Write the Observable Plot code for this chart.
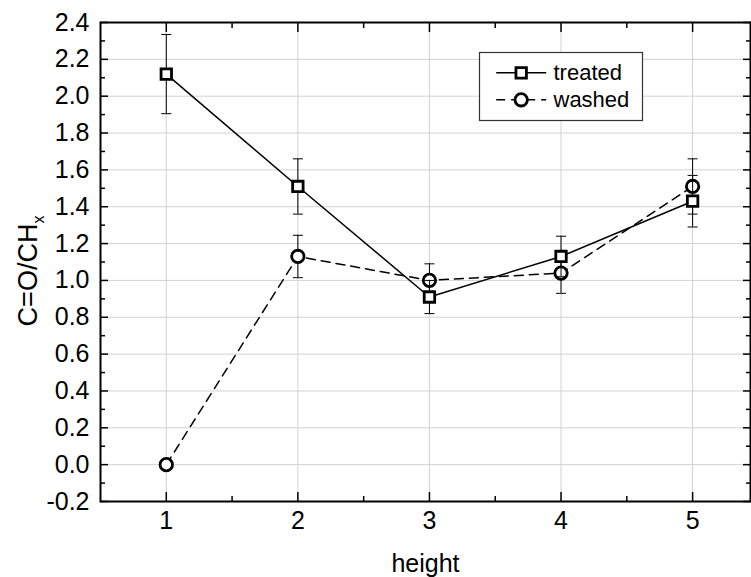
<!DOCTYPE html>
<html>
<head>
<meta charset="utf-8">
<script src="https://cdn.jsdelivr.net/npm/d3@7"></script>
<script src="https://cdn.jsdelivr.net/npm/@observablehq/plot@0.6"></script>
<style>
  html, body { margin: 0; padding: 0; background: #fff; }
  #chart svg { display: block; }
</style>
</head>
<body>
<div id="chart"></div>
<script>
// Measurements per sample height
const heights = [1, 2, 3, 4, 5];
const treated = [2.12, 1.51, 0.91, 1.13, 1.43];
const treatedErr = [0.215, 0.15, 0.09, 0.11, 0.14];
const washed = [0.00, 1.13, 1.00, 1.04, 1.51];
const washedErr = [0, 0.115, 0.09, 0.11, 0.15];
const seriesNames = ["treated", "washed"];

// Axis ticks and labels
const xTicks = [1, 2, 3, 4, 5];
const xMinor = [1.5, 2.5, 3.5, 4.5];
const yTicks = [-0.2, 0.0, 0.2, 0.4, 0.6, 0.8, 1.0, 1.2, 1.4, 1.6, 1.8, 2.0, 2.2, 2.4];
const yMinor = [-0.1, 0.1, 0.3, 0.5, 0.7, 0.9, 1.1, 1.3, 1.5, 1.7, 1.9, 2.1, 2.3];
const xLabel = "height";
const yLabel = "C=O/CH";
const yLabelSub = "x";

const rows = heights.flatMap((h, i) => [
  {series: seriesNames[0], x: h, y: treated[i], err: treatedErr[i]},
  {series: seriesNames[1], x: h, y: washed[i], err: washedErr[i]}
]);

// Horizontal-bar symbol, used for error-bar caps and legend line samples
const hbar = {
  draw(context, size) {
    const r = Math.sqrt(size / Math.PI);
    context.moveTo(-r, 0);
    context.lineTo(r, 0);
  }
};

const style = {
  treated: {symbol: "square", r: 5.9, dash: null},
  washed: {symbol: "circle", r: 6.2, dash: "9,6"}
};

function seriesMarks(name) {
  const data = rows.filter(d => d.series === name);
  const errs = data.filter(d => d.err > 0);
  const s = style[name];
  return [
    Plot.line(data, {x: "x", y: "y", stroke: "black", strokeWidth: 1.5, strokeDasharray: s.dash}),
    Plot.ruleX(errs, {x: "x", y1: d => d.y - d.err, y2: d => d.y + d.err, stroke: "black", strokeWidth: 1}),
    Plot.dot(errs, {x: "x", y: d => d.y + d.err, symbol: hbar, r: 5, stroke: "black", strokeWidth: 1}),
    Plot.dot(errs, {x: "x", y: d => d.y - d.err, symbol: hbar, r: 5, stroke: "black", strokeWidth: 1}),
    Plot.dot(data, {x: "x", y: "y", symbol: s.symbol, r: s.r, fill: "white", stroke: "black", strokeWidth: 2.8})
  ];
}

// Inward-pointing tick marks on every side of the frame
function inward(anchor, ticks, size) {
  const o = {ticks, tickSize: size, fill: "none", label: null, stroke: "black", strokeWidth: 1.5};
  if (anchor === "left") return Plot.axisY({...o, anchor, dx: size});
  if (anchor === "right") return Plot.axisY({...o, anchor, dx: -size});
  if (anchor === "bottom") return Plot.axisX({...o, anchor, dy: -size});
  return Plot.axisX({...o, anchor, dy: size});
}

const legendMarks = seriesNames.flatMap((name, i) => {
  const s = style[name];
  const dy = 50.3 + i * 27;
  return [
    Plot.dot([name], {frameAnchor: "top-left", dx: 420.7, dy, symbol: hbar, r: 25, stroke: "black", strokeWidth: 1.5, strokeDasharray: s.dash}),
    Plot.dot([name], {frameAnchor: "top-left", dx: 420.7, dy, symbol: s.symbol, r: s.r, fill: "white", stroke: "black", strokeWidth: 2.8}),
    Plot.text([name], {frameAnchor: "top-left", dx: 453, dy, text: d => d, textAnchor: "start", lineAnchor: "middle", fontSize: 22, fill: "black"})
  ];
});

const chart = Plot.plot({
  width: 751,
  height: 577,
  marginLeft: 100,
  marginRight: 1,
  marginTop: 22,
  marginBottom: 76,
  style: {fontFamily: "'Liberation Sans', Arial, sans-serif", fontSize: "22px", color: "black", background: "white"},
  x: {domain: [0.5, 5.44]},
  y: {domain: [-0.2, 2.4]},
  marks: [
    Plot.gridX(xTicks, {stroke: "#d2d2d2", strokeOpacity: 1, strokeWidth: 1}),
    Plot.gridY(yTicks, {stroke: "#d2d2d2", strokeOpacity: 1, strokeWidth: 1}),
    ...seriesMarks("washed"),
    ...seriesMarks("treated"),
    Plot.frame({stroke: "black", strokeWidth: 2}),
    inward("left", yTicks, 8), inward("left", yMinor, 5),
    inward("right", yTicks, 8), inward("right", yMinor, 5),
    inward("bottom", xTicks, 9), inward("bottom", xMinor, 5),
    inward("top", xTicks, 9), inward("top", xMinor, 5),
    Plot.axisY(yTicks, {anchor: "left", tickSize: 0, tickPadding: 11, tickFormat: d => d.toFixed(1), label: null, fontSize: 25}),
    Plot.axisX(xTicks, {anchor: "bottom", tickSize: 0, tickPadding: 10, tickFormat: d => String(d), label: null, fontSize: 25}),
    Plot.text([xLabel], {frameAnchor: "bottom", dy: 62, textAnchor: "middle", lineAnchor: "middle", text: d => d, fontSize: 25, fill: "black"}),
    Plot.text([yLabel], {frameAnchor: "left", dx: -72, dy: 9, rotate: -90, textAnchor: "middle", lineAnchor: "middle", text: d => d, fontSize: 27, fill: "black"}),
    Plot.frame({insetLeft: 379, insetRight: 108, insetTop: 30, insetBottom: 381, fill: "white", stroke: "#333", strokeWidth: 1.2}),
    ...legendMarks
  ]
});

// Add the subscript to the y-axis title
d3.select(chart).selectAll("text")
  .filter(function() { return this.textContent === yLabel; })
  .each(function() {
    const t = d3.select(this);
    t.text(null);
    t.append("tspan").text(yLabel);
    t.append("tspan").attr("dy", "0.45em").attr("font-size", 16).text(yLabelSub);
  });

document.getElementById("chart").appendChild(chart);
</script>
</body>
</html>
